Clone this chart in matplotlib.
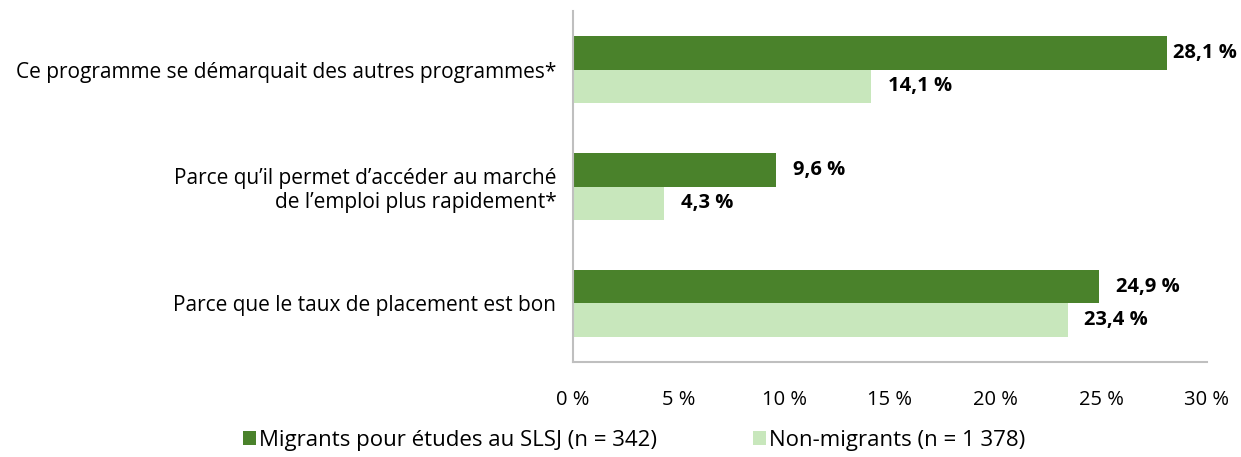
import matplotlib.pyplot as plt
import numpy as np

# data
categories = ["Ce programme se démarquait des autres programmes*",
              "Parce qu’il permet d’accéder au marché\nde l’emploi plus rapidement*",
              "Parce que le taux de placement est bon"]
migrants = [28.1, 9.6, 24.9]
non_migrants = [14.1, 4.3, 23.4]
series_names = ["Migrants pour études au SLSJ (n = 342)", "Non-migrants (n = 1 378)"]
xticks = [0, 5, 10, 15, 20, 25, 30]

dark = "#4a822b"
light = "#c8e7bc"

plt.rcParams['font.family'] = ['Open Sans', 'DejaVu Sans']

fig = plt.figure(figsize=(12.41, 4.57), dpi=100)
ax = fig.add_axes([0.4617, 0.2079, 0.5109, 0.768])

y = np.arange(len(categories))
h = 0.29
b1 = ax.barh(y - h / 2, migrants, height=h, color=dark, label=series_names[0])
b2 = ax.barh(y + h / 2, non_migrants, height=h, color=light, label=series_names[1])

fmt = lambda v: f"{v:.1f}".replace(".", ",") + " %"
labels = []
for bars, vals in ((b1, migrants), (b2, non_migrants)):
    for bar, v in zip(bars, vals):
        t = ax.annotate(fmt(v), (v, bar.get_y() + bar.get_height() / 2),
                        xytext=(12, 0), textcoords="offset points", va="center",
                        ha="left", fontsize=14.5, fontweight="bold", color="black")
        labels.append(t)

ax.set_ylim(len(categories) - 0.5, -0.5)
ax.set_xlim(0, 30)
ax.set_xticks(xticks)
ax.set_xticklabels([f"{t} %" for t in xticks], fontsize=14.5)
ax.set_yticks(y)
ax.set_yticklabels(categories, fontsize=15, ha="right", multialignment="right",
                   linespacing=1.2)
ax.tick_params(axis="both", length=0, colors="#000000")
ax.tick_params(axis="x", pad=20)
ax.tick_params(axis="y", pad=12)

for s in ("top", "right"):
    ax.spines[s].set_visible(False)
for s in ("left", "bottom"):
    ax.spines[s].set_color("#bfbfbf")
    ax.spines[s].set_linewidth(1.5)

fig.legend(handles=[b1, b2], labels=series_names, loc="center", bbox_to_anchor=(0.511, 0.037),
           ncol=2, frameon=False, fontsize=16, handlelength=0.6, handleheight=0.6,
           handletextpad=0.15, columnspacing=4.3)

# pull labels back inside the figure if they run past the right edge (like Excel does)
fig.canvas.draw()
r = fig.canvas.get_renderer()
W = fig.bbox.width
for t in labels:
    bb = t.get_window_extent(r)
    if bb.x1 > W - 4:
        dx = (bb.x1 - (W - 4)) * 72 / fig.dpi
        ox, oy = t.xyann
        t.xyann = (ox - dx, oy)

fig.savefig("out.png", dpi=100)
